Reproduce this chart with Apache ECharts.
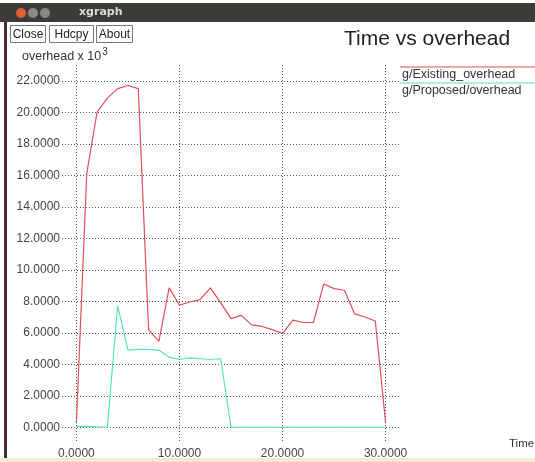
<!DOCTYPE html>
<html>
<head>
<meta charset="utf-8">
<script src="https://cdn.jsdelivr.net/npm/echarts@6/dist/echarts.min.js"></script>
<style>
html,body{margin:0;padding:0;background:#fff;}
#chart{width:535px;height:462px;}
</style>
</head>
<body>
<div id="chart"></div>
<script>
// ---- data ----
const times = [0,1,2,3,4,5,6,7,8,9,10,11,12,13,14,15,16,17,18,19,20,21,22,23,24,25,26,27,28,29,30];
const existingOverhead = [0.3,16.1,20.0,20.9,21.5,21.7,21.5,6.2,5.45,8.85,7.75,7.95,8.1,8.85,7.9,6.9,7.1,6.5,6.4,6.2,5.95,6.8,6.65,6.65,9.1,8.8,8.7,7.2,7.0,6.75,0.3];
const proposedOverhead = [0.05,0.05,0.02,0,7.7,4.9,4.95,4.95,4.9,4.45,4.3,4.4,4.35,4.3,4.35,0,0,0,0,0,0,0,0,0,0,0,0,0,0,0,0];
const xTicks = [0,10,20,30];
const yTicks = [0,2,4,6,8,10,12,14,16,18,20,22];
const seriesNames = ['g/Existing_overhead','g/Proposed/overhead'];
const seriesColors = ['#de4f57','#55e6b0'];

const FONT = 'Liberation Sans, Arial, sans-serif';
const chart = echarts.init(document.getElementById('chart'));

const pair = (xs, ys) => xs.map((x, i) => [x, ys[i]]);

function button(x, w, label) {
  return {
    type: 'group', left: x, top: 25,
    children: [
      {type: 'rect', shape: {x: 0, y: 0, width: w, height: 17}, style: {fill: '#fff', stroke: '#777', lineWidth: 1}},
      {type: 'text', x: w / 2, y: 9, style: {text: label, font: '12px ' + FONT, fill: '#222', align: 'center', verticalAlign: 'middle'}}
    ]
  };
}

chart.setOption({
  backgroundColor: '#fff',
  animation: false,
  grid: {left: 62, right: 136, top: 65, bottom: 19, containLabel: false},
  xAxis: {
    type: 'value', min: -1.4, max: 31.3,
    axisLine: {show: false},
    axisTick: {show: false, customValues: xTicks},
    axisLabel: {customValues: xTicks, formatter: v => v.toFixed(4), color: '#444', fontFamily: FONT, fontSize: 12, margin: 5},
    splitLine: {show: true, lineStyle: {color: '#555', type: [1, 2], width: 1}}
  },
  yAxis: {
    type: 'value', min: -1, max: 23,
    axisLine: {show: false},
    axisTick: {show: false, customValues: yTicks},
    axisLabel: {customValues: yTicks, formatter: v => v.toFixed(4), color: '#444', fontFamily: FONT, fontSize: 12, margin: 2},
    splitLine: {show: true, lineStyle: {color: '#555', type: [1, 2], width: 1}}
  },
  series: [
    {name: seriesNames[0], type: 'line', data: pair(times, existingOverhead), showSymbol: false,
     lineStyle: {color: seriesColors[0], width: 1.2}, itemStyle: {color: seriesColors[0]}, z: 3},
    {name: seriesNames[1], type: 'line', data: pair(times, proposedOverhead), showSymbol: false,
     lineStyle: {color: seriesColors[1], width: 1.2}, itemStyle: {color: seriesColors[1]}, z: 2}
  ],
  graphic: [
    // window title bar
    {type: 'rect', left: 0, top: 3, shape: {width: 535, height: 19}, style: {fill: '#3c3b37'}},
    {type: 'circle', shape: {cx: 21, cy: 13, r: 5}, style: {fill: '#e0603a'}},
    {type: 'circle', shape: {cx: 33, cy: 13, r: 5}, style: {fill: '#8a8884'}},
    {type: 'circle', shape: {cx: 45, cy: 13, r: 5}, style: {fill: '#8a8884'}},
    {type: 'text', left: 79, top: 7, style: {text: 'xgraph', font: 'bold 11px DejaVu Sans, sans-serif', fill: '#dcdcd8'}},
    // left and bottom window borders
    {type: 'rect', left: 4, top: 22, shape: {width: 3, height: 440}, style: {fill: '#4b2b3b'}},
    {type: 'rect', left: 0, top: 458, shape: {width: 535, height: 4}, style: {fill: '#f4e6d8'}},
    // buttons
    button(10, 35, 'Close'),
    button(49, 44, 'Hdcpy'),
    button(96, 36, 'About'),
    // title
    {type: 'text', left: 344, top: 29, style: {text: 'Time vs overhead', font: '21px ' + FONT, fill: '#222'}},
    // axis names
    {type: 'text', left: 22, top: 47, style: {
      text: '{a|overhead x 10}{s|3}', font: '12.5px ' + FONT, fill: '#333',
      rich: {a: {fontSize: 12.5, fontFamily: FONT, color: '#333', verticalAlign: 'bottom', lineHeight: 16},
             s: {fontSize: 10, fontFamily: FONT, color: '#333', verticalAlign: 'top', padding: [0, 0, 6, 1]}}
    }},
    {type: 'text', left: 509, top: 438, style: {text: 'Time', font: '11.5px ' + FONT, fill: '#333'}},
    // legend
    {type: 'line', shape: {x1: 400, y1: 67, x2: 535, y2: 67}, style: {stroke: seriesColors[0], lineWidth: 1.2}},
    {type: 'text', left: 402, top: 68, style: {text: seriesNames[0], font: '12.5px ' + FONT, fill: '#333'}},
    {type: 'line', shape: {x1: 400, y1: 83, x2: 535, y2: 83}, style: {stroke: seriesColors[1], lineWidth: 1.2}},
    {type: 'text', left: 402, top: 84, style: {text: seriesNames[1], font: '12.5px ' + FONT, fill: '#333'}}
  ]
});
</script>
</body>
</html>
